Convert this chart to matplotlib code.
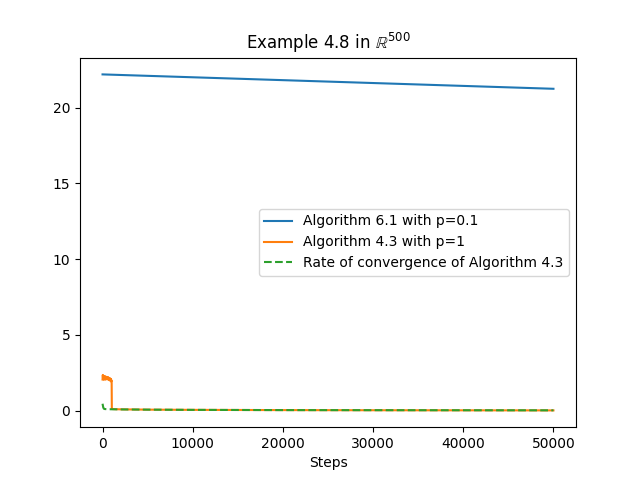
import matplotlib
matplotlib.use("Agg")
import matplotlib.pyplot as plt
import numpy as np

# Algorithm 6.1 (p=0.1)
blue_steps = [0, 10000, 20000, 30000, 40000, 50000]
blue_vals = [22.2, 22.01, 21.82, 21.63, 21.44, 21.25]

# Algorithm 4.3 (p=1) - noisy plateau then drop
orange_steps = [0, 30, 60, 90, 120, 150, 180, 210, 240, 270, 300, 330, 360, 390,
                420, 450, 480, 510, 540, 570, 600, 630, 660, 690, 720, 750, 780,
                810, 840, 870, 900, 930, 960, 990, 1010, 1030, 1100, 1500, 2000,
                5000, 10000, 20000, 30000, 50000]
orange_vals = [2.05, 2.35, 2.1, 2.3, 2.05, 2.25, 2.1, 2.28, 2.05, 2.22, 2.12, 2.25,
               2.05, 2.2, 2.1, 2.22, 2.08, 2.2, 2.1, 2.18, 2.05, 2.2, 2.1, 2.15,
               2.05, 2.15, 2.0, 2.12, 2.02, 2.1, 1.95, 2.08, 1.92, 2.0, 1.85, 0.12,
               0.1, 0.09, 0.08, 0.06, 0.045, 0.03, 0.02, 0.01]

# Rate of convergence of Algorithm 4.3
green_steps = [0, 80, 150, 250, 500, 1000, 2000, 5000, 10000, 20000, 30000, 50000]
green_vals = [0.45, 0.2, 0.12, 0.1, 0.09, 0.085, 0.075, 0.06, 0.045, 0.03, 0.025, 0.015]

fig, ax = plt.subplots(figsize=(6.4, 4.8), dpi=100)
ax.plot(blue_steps, blue_vals, color='#1f77b4', label='Algorithm 6.1 with p=0.1')
ax.plot(orange_steps, orange_vals, color='#ff7f0e', label='Algorithm 4.3 with p=1')
ax.plot(green_steps, green_vals, color='#2ca02c', linestyle='--',
        label='Rate of convergence of Algorithm 4.3')
ax.set_title(r'Example 4.8 in $\mathbb{R}^{500}$')
ax.set_xlabel('Steps')
ax.legend(loc='center right')
fig.savefig('out.png')
